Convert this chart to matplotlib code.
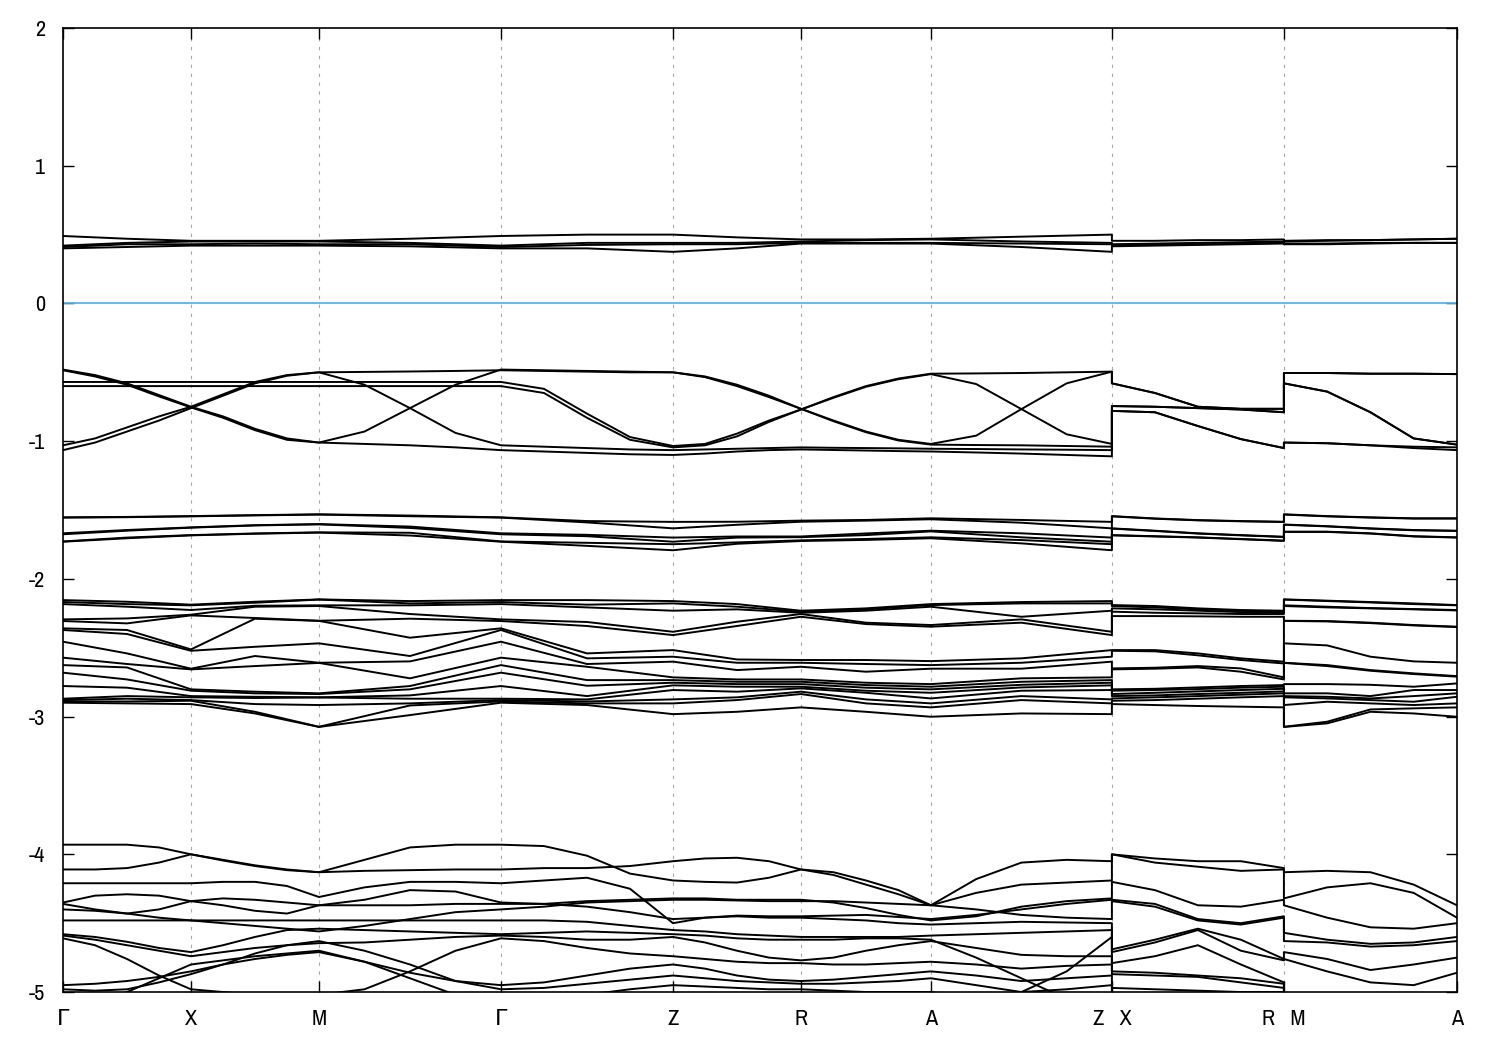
import numpy as np
import matplotlib
import matplotlib.pyplot as plt
from matplotlib import font_manager
from matplotlib.ticker import FormatStrFormatter

matplotlib.use("Agg")

# k-path: Γ X M Γ Z R A Z|X R|M A (path distance)
kpath = [0.0, 1.0, 2.0, 3.422, 4.766, 5.766, 6.781, 8.195, 9.539, 10.891]
klabels = ["Γ", "X", "M", "Γ", "Z", "R", "A", "Z   X", "R   M", "A"]

# Energies in eV.
# "_path" = Γ-X-M-Γ-Z-R-A-Z, "_xr" = X-R piece, "_ma" = M-A piece.
# Sorted tables: one row per k-point (path: nodes + midpoints, pieces: 5 points).

g1_path = [
    [0.49, 0.42, 0.41, 0.40],
    [0.47, 0.44, 0.43, 0.41],
    [0.455, 0.45, 0.43, 0.42],
    [0.455, 0.45, 0.435, 0.42],
    [0.455, 0.45, 0.43, 0.42],
    [0.47, 0.44, 0.43, 0.415],
    [0.49, 0.42, 0.41, 0.40],
    [0.50, 0.44, 0.425, 0.40],
    [0.50, 0.44, 0.43, 0.375],
    [0.48, 0.44, 0.43, 0.40],
    [0.465, 0.45, 0.44, 0.435],
    [0.465, 0.46, 0.44, 0.435],
    [0.47, 0.465, 0.44, 0.435],
    [0.485, 0.45, 0.435, 0.41],
    [0.50, 0.44, 0.43, 0.375],
]
g1_xr = [
    [0.455, 0.43, 0.425, 0.415],
    [0.455, 0.435, 0.425, 0.42],
    [0.46, 0.44, 0.43, 0.425],
    [0.46, 0.445, 0.435, 0.43],
    [0.465, 0.45, 0.44, 0.435],
]
g1_ma = [
    [0.455, 0.45, 0.435, 0.43],
    [0.46, 0.455, 0.435, 0.43],
    [0.46, 0.46, 0.44, 0.435],
    [0.465, 0.465, 0.44, 0.44],
    [0.47, 0.47, 0.44, 0.44],
]

# group 2 is stored per band (one row = one band), quarter points on the path
g2_bands = [
    [-0.48, -0.52, -0.58, -0.665, -0.75, -0.82, -0.91, -0.98, -1.01,
     -1.02, -1.03, -1.045, -1.065, -1.075, -1.085, -1.095, -1.10,
     -1.09, -1.075, -1.065, -1.06, -1.064, -1.068, -1.072, -1.075,
     -1.082, -1.09, -1.10, -1.11],
    [-0.485, -0.53, -0.59, -0.675, -0.755, -0.83, -0.92, -0.99, -1.01,
     -0.93, -0.76, -0.59, -0.48, -0.485, -0.49, -0.495, -0.50,
     -0.53, -0.59, -0.67, -0.765, -0.85, -0.93, -0.99, -1.02,
     -0.96, -0.767, -0.58, -0.495],
    [-1.03, -0.98, -0.90, -0.82, -0.75, -0.66, -0.57, -0.52, -0.50,
     -0.497, -0.494, -0.49, -0.485, -0.49, -0.495, -0.50, -0.50,
     -0.535, -0.60, -0.68, -0.765, -0.855, -0.935, -0.995, -1.025,
     -1.028, -1.03, -1.035, -1.04],
    [-1.065, -1.01, -0.93, -0.85, -0.76, -0.67, -0.58, -0.525, -0.50,
     -0.59, -0.76, -0.94, -1.03, -1.04, -1.05, -1.06, -1.065,
     -1.06, -1.055, -1.05, -1.045, -1.048, -1.05, -1.052, -1.055,
     -1.057, -1.06, -1.062, -1.065],
    [-0.57, -0.57, -0.57, -0.57, -0.57, -0.57, -0.57, -0.57, -0.57,
     -0.57, -0.57, -0.57, -0.57, -0.62, -0.80, -0.97, -1.035,
     -1.02, -0.945, -0.85, -0.77, -0.68, -0.60, -0.545, -0.51,
     -0.508, -0.505, -0.50, -0.495],
    [-0.60, -0.60, -0.60, -0.60, -0.60, -0.60, -0.60, -0.60, -0.60,
     -0.60, -0.60, -0.60, -0.60, -0.65, -0.83, -0.99, -1.045,
     -1.03, -0.965, -0.86, -0.77, -0.685, -0.605, -0.55, -0.513,
     -0.585, -0.767, -0.95, -1.02],
]
g2_xr = [
    [-0.58, -0.58, -0.745, -0.745, -0.78, -0.78],
    [-0.65, -0.65, -0.75, -0.75, -0.79, -0.79],
    [-0.75, -0.75, -0.76, -0.76, -0.89, -0.89],
    [-0.765, -0.765, -0.77, -0.77, -0.985, -0.985],
    [-0.765, -0.765, -0.79, -0.79, -1.05, -1.05],
]
g2_ma = [
    [-0.505, -0.505, -0.58, -0.58, -1.01, -1.01],
    [-0.505, -0.505, -0.64, -0.64, -1.015, -1.015],
    [-0.51, -0.51, -0.79, -0.79, -1.03, -1.03],
    [-0.51, -0.51, -0.98, -0.98, -1.04, -1.05],
    [-0.513, -0.513, -1.025, -1.025, -1.045, -1.065],
]

g3_path = [
    [-1.553, -1.555, -1.669, -1.676, -1.728, -1.730],
    [-1.550, -1.552, -1.645, -1.650, -1.700, -1.705],
    [-1.544, -1.546, -1.626, -1.628, -1.682, -1.684],
    [-1.537, -1.539, -1.610, -1.612, -1.670, -1.672],
    [-1.531, -1.533, -1.602, -1.604, -1.662, -1.664],
    [-1.540, -1.545, -1.620, -1.630, -1.665, -1.685],
    [-1.553, -1.555, -1.669, -1.676, -1.728, -1.730],
    [-1.580, -1.590, -1.680, -1.690, -1.738, -1.760],
    [-1.586, -1.633, -1.700, -1.730, -1.748, -1.792],
    [-1.585, -1.607, -1.692, -1.700, -1.735, -1.745],
    [-1.577, -1.585, -1.692, -1.697, -1.720, -1.725],
    [-1.572, -1.577, -1.670, -1.682, -1.710, -1.717],
    [-1.560, -1.567, -1.650, -1.655, -1.698, -1.705],
    [-1.572, -1.592, -1.669, -1.698, -1.718, -1.742],
    [-1.586, -1.633, -1.700, -1.730, -1.748, -1.792],
]
g3_xr = [
    [-1.544, -1.546, -1.633, -1.635, -1.682, -1.684],
    [-1.561, -1.563, -1.650, -1.652, -1.690, -1.692],
    [-1.573, -1.575, -1.669, -1.671, -1.698, -1.700],
    [-1.580, -1.582, -1.682, -1.684, -1.710, -1.712],
    [-1.585, -1.587, -1.694, -1.696, -1.722, -1.724],
]
g3_ma = [
    [-1.531, -1.533, -1.605, -1.607, -1.657, -1.659],
    [-1.544, -1.546, -1.617, -1.619, -1.657, -1.659],
    [-1.553, -1.555, -1.633, -1.635, -1.669, -1.671],
    [-1.560, -1.562, -1.645, -1.647, -1.690, -1.692],
    [-1.560, -1.562, -1.650, -1.652, -1.698, -1.700],
]

g4_path = [
    [-2.154, -2.168, -2.183, -2.294, -2.306, -2.359, -2.371, -2.456, -2.572, -2.626, -2.681, -2.778, -2.870, -2.880, -2.890, -2.899],
    [-2.166, -2.183, -2.202, -2.287, -2.323, -2.371, -2.400, -2.541, -2.618, -2.643, -2.730, -2.790, -2.851, -2.870, -2.890, -2.904],
    [-2.187, -2.192, -2.226, -2.260, -2.265, -2.512, -2.522, -2.652, -2.657, -2.802, -2.812, -2.851, -2.860, -2.880, -2.885, -2.909],
    [-2.166, -2.173, -2.195, -2.202, -2.284, -2.289, -2.493, -2.560, -2.633, -2.819, -2.831, -2.856, -2.865, -2.909, -2.965, -2.977],
    [-2.149, -2.150, -2.192, -2.197, -2.304, -2.305, -2.468, -2.609, -2.610, -2.831, -2.836, -2.860, -2.861, -2.916, -3.074, -3.075],
    [-2.161, -2.178, -2.192, -2.255, -2.289, -2.427, -2.560, -2.599, -2.722, -2.778, -2.802, -2.846, -2.870, -2.904, -2.919, -2.989],
    [-2.154, -2.168, -2.183, -2.294, -2.306, -2.359, -2.371, -2.456, -2.572, -2.626, -2.681, -2.778, -2.870, -2.880, -2.890, -2.899],
    [-2.154, -2.187, -2.207, -2.313, -2.342, -2.541, -2.577, -2.618, -2.638, -2.735, -2.776, -2.851, -2.875, -2.890, -2.904, -2.916],
    [-2.161, -2.178, -2.231, -2.384, -2.408, -2.517, -2.565, -2.601, -2.715, -2.735, -2.754, -2.773, -2.807, -2.875, -2.904, -2.982],
    [-2.183, -2.202, -2.221, -2.311, -2.342, -2.585, -2.609, -2.662, -2.730, -2.747, -2.764, -2.783, -2.819, -2.860, -2.880, -2.965],
    [-2.231, -2.238, -2.246, -2.255, -2.275, -2.589, -2.609, -2.638, -2.730, -2.747, -2.764, -2.783, -2.795, -2.819, -2.836, -2.933],
    [-2.214, -2.221, -2.231, -2.318, -2.328, -2.589, -2.618, -2.674, -2.754, -2.771, -2.790, -2.812, -2.827, -2.875, -2.904, -2.965],
    [-2.183, -2.190, -2.202, -2.335, -2.347, -2.597, -2.626, -2.652, -2.764, -2.783, -2.802, -2.827, -2.868, -2.904, -2.933, -3.001],
    [-2.168, -2.178, -2.275, -2.294, -2.318, -2.577, -2.609, -2.652, -2.722, -2.747, -2.769, -2.788, -2.812, -2.851, -2.880, -2.977],
    [-2.161, -2.178, -2.231, -2.384, -2.408, -2.517, -2.565, -2.601, -2.715, -2.735, -2.754, -2.773, -2.807, -2.875, -2.904, -2.982],
]
g4_xr = [
    [-2.190, -2.197, -2.214, -2.238, -2.270, -2.517, -2.522, -2.650, -2.657, -2.802, -2.812, -2.836, -2.851, -2.868, -2.885, -2.909],
    [-2.197, -2.207, -2.221, -2.246, -2.270, -2.517, -2.526, -2.645, -2.652, -2.798, -2.807, -2.827, -2.846, -2.860, -2.880, -2.916],
    [-2.214, -2.221, -2.231, -2.250, -2.272, -2.541, -2.555, -2.633, -2.643, -2.788, -2.800, -2.817, -2.836, -2.851, -2.870, -2.923],
    [-2.226, -2.231, -2.241, -2.255, -2.275, -2.577, -2.589, -2.650, -2.674, -2.778, -2.790, -2.807, -2.827, -2.841, -2.860, -2.928],
    [-2.231, -2.238, -2.246, -2.255, -2.275, -2.601, -2.614, -2.715, -2.730, -2.771, -2.783, -2.798, -2.817, -2.831, -2.851, -2.933],
]
g4_ma = [
    [-2.149, -2.150, -2.192, -2.197, -2.304, -2.305, -2.468, -2.609, -2.610, -2.764, -2.831, -2.851, -2.860, -2.916, -3.074, -3.075],
    [-2.158, -2.161, -2.202, -2.207, -2.306, -2.309, -2.483, -2.626, -2.633, -2.764, -2.831, -2.856, -2.868, -2.892, -3.037, -3.049],
    [-2.168, -2.171, -2.212, -2.214, -2.318, -2.321, -2.565, -2.662, -2.667, -2.769, -2.851, -2.868, -2.880, -2.904, -2.948, -2.965],
    [-2.178, -2.183, -2.219, -2.221, -2.335, -2.338, -2.599, -2.686, -2.691, -2.783, -2.807, -2.851, -2.892, -2.916, -2.940, -2.977],
    [-2.190, -2.192, -2.226, -2.229, -2.347, -2.350, -2.609, -2.706, -2.710, -2.759, -2.807, -2.831, -2.856, -2.904, -2.933, -3.001],
]

# group 5 per band, quarter points on the path
g5_bands = [
    [-3.93, -3.93, -3.93, -3.95, -4.00, -4.04, -4.08, -4.11, -4.13,
     -4.04, -3.95, -3.93, -3.93, -3.94, -4.01, -4.14, -4.19,
     -4.20, -4.205, -4.17, -4.11, -4.13, -4.19, -4.26, -4.37,
     -4.18, -4.06, -4.04, -4.05],
    [-4.11, -4.11, -4.10, -4.06, -4.00, -4.045, -4.085, -4.115, -4.13,
     -4.12, -4.115, -4.11, -4.11, -4.10, -4.10, -4.085, -4.05,
     -4.03, -4.025, -4.05, -4.11, -4.15, -4.22, -4.29, -4.37,
     -4.28, -4.22, -4.205, -4.19],
    [-4.21, -4.21, -4.21, -4.21, -4.21, -4.20, -4.20, -4.23, -4.31,
     -4.24, -4.20, -4.20, -4.21, -4.19, -4.17, -4.25, -4.50,
     -4.46, -4.445, -4.45, -4.45, -4.445, -4.44, -4.455, -4.47,
     -4.44, -4.40, -4.36, -4.33],
    [-4.35, -4.30, -4.29, -4.30, -4.34, -4.37, -4.41, -4.43, -4.37,
     -4.33, -4.26, -4.27, -4.35, -4.36, -4.34, -4.33, -4.32,
     -4.32, -4.33, -4.33, -4.33, -4.35, -4.39, -4.44, -4.48,
     -4.45, -4.38, -4.34, -4.32],
    [-4.36, -4.40, -4.43, -4.40, -4.34, -4.32, -4.33, -4.35, -4.37,
     -4.37, -4.37, -4.36, -4.36, -4.36, -4.38, -4.42, -4.47,
     -4.46, -4.45, -4.46, -4.46, -4.47, -4.48, -4.50, -4.51,
     -4.50, -4.49, -4.495, -4.50],
    [-4.40, -4.41, -4.43, -4.46, -4.48, -4.50, -4.52, -4.54, -4.56,
     -4.52, -4.47, -4.42, -4.40, -4.38, -4.35, -4.34, -4.33,
     -4.33, -4.335, -4.34, -4.34, -4.34, -4.35, -4.36, -4.37,
     -4.40, -4.44, -4.46, -4.47],
    [-4.48, -4.48, -4.48, -4.48, -4.48, -4.48, -4.48, -4.48, -4.48,
     -4.48, -4.48, -4.48, -4.48, -4.48, -4.49, -4.52, -4.55,
     -4.56, -4.58, -4.59, -4.60, -4.60, -4.60, -4.60, -4.59,
     -4.58, -4.57, -4.56, -4.55],
    [-4.58, -4.60, -4.635, -4.68, -4.71, -4.66, -4.60, -4.55, -4.54,
     -4.55, -4.56, -4.57, -4.58, -4.57, -4.56, -4.57, -4.58,
     -4.59, -4.61, -4.62, -4.62, -4.62, -4.61, -4.61, -4.62,
     -4.75, -4.90, -5.05, -5.10],
    [-4.59, -4.62, -4.66, -4.70, -4.74, -4.71, -4.68, -4.66, -4.645,
     -4.64, -4.62, -4.60, -4.59, -4.60, -4.62, -4.62, -4.60,
     -4.64, -4.70, -4.75, -4.77, -4.75, -4.70, -4.66, -4.63,
     -4.68, -4.73, -4.74, -4.74],
    [-4.61, -4.66, -4.76, -4.88, -4.98, -5.00, -5.02, -5.03, -5.02,
     -4.98, -4.85, -4.70, -4.61, -4.63, -4.68, -4.72, -4.74,
     -4.76, -4.78, -4.79, -4.79, -4.80, -4.80, -4.79, -4.78,
     -4.80, -4.83, -4.81, -4.80],
    [-4.95, -4.94, -4.92, -4.89, -4.85, -4.80, -4.76, -4.73, -4.71,
     -4.78, -4.86, -4.92, -4.95, -4.93, -4.88, -4.83, -4.80,
     -4.83, -4.88, -4.91, -4.92, -4.91, -4.89, -4.87, -4.85,
     -4.88, -4.92, -4.90, -4.88],
    [-4.98, -4.99, -4.98, -4.93, -4.87, -4.80, -4.72, -4.66, -4.63,
     -4.70, -4.80, -4.92, -4.98, -4.97, -4.94, -4.91, -4.88,
     -4.90, -4.92, -4.93, -4.94, -4.94, -4.93, -4.92, -4.90,
     -4.95, -5.00, -4.98, -4.95],
    [-5.10, -5.08, -5.00, -4.90, -4.80, -4.77, -4.74, -4.72, -4.70,
     -4.78, -4.90, -5.02, -5.10, -5.07, -5.02, -4.98, -4.95,
     -4.96, -4.97, -4.98, -4.98, -4.99, -5.00, -5.00, -5.00,
     -5.05, -5.00, -4.85, -4.60],
]
g5_xr = [
    [-4.00, -4.00, -4.20, -4.33, -4.34, -4.69, -4.71, -4.79, -4.85, -4.87, -4.97, -5.05, -5.10],
    [-4.03, -4.06, -4.26, -4.36, -4.38, -4.62, -4.64, -4.74, -4.86, -4.88, -4.98, -5.05, -5.10],
    [-4.05, -4.09, -4.37, -4.47, -4.48, -4.54, -4.55, -4.66, -4.88, -4.89, -4.99, -5.05, -5.10],
    [-4.05, -4.12, -4.38, -4.50, -4.51, -4.62, -4.70, -4.80, -4.90, -4.93, -5.00, -5.05, -5.10],
    [-4.10, -4.11, -4.33, -4.45, -4.46, -4.76, -4.77, -4.93, -4.94, -4.97, -5.00, -5.05, -5.10],
]
g5_ma = [
    [-4.13, -4.32, -4.37, -4.57, -4.63, -4.71, -4.76, -5.02, -5.10, -5.15, -5.20, -5.25, -5.30],
    [-4.12, -4.24, -4.46, -4.62, -4.64, -4.76, -4.85, -5.02, -5.10, -5.15, -5.20, -5.25, -5.30],
    [-4.13, -4.21, -4.53, -4.65, -4.67, -4.84, -4.93, -5.02, -5.10, -5.15, -5.20, -5.25, -5.30],
    [-4.22, -4.28, -4.54, -4.64, -4.66, -4.80, -4.95, -5.02, -5.10, -5.15, -5.20, -5.25, -5.30],
    [-4.37, -4.46, -4.50, -4.60, -4.63, -4.75, -4.86, -5.02, -5.10, -5.15, -5.20, -5.25, -5.30],
]

# font: a narrow sans like gnuplot's if one is installed
names = sorted({f.name for f in font_manager.fontManager.ttflist})
narrow = [n for n in names if "Narrow" in n or "Condensed" in n]
if narrow:
    plt.rcParams["font.family"] = [narrow[0], "DejaVu Sans"]
else:
    plt.rcParams["font.family"] = ["DejaVu Sans"]
plt.rcParams["axes.unicode_minus"] = False

# sample positions along the path
nodes = np.array(kpath[:8])
k_mid = np.empty(15)
k_mid[0::2] = nodes
k_mid[1::2] = (nodes[:-1] + nodes[1:]) / 2
k_quarter = np.concatenate(
    [np.linspace(nodes[i], nodes[i + 1], 5)[(0 if i == 0 else 1):] for i in range(7)]
)
k_xr = np.linspace(kpath[7], kpath[8], 5)
k_ma = np.linspace(kpath[8], kpath[9], 5)

# (k along path, band rows on path, X-R table, M-A table)
groups = [
    (k_mid, np.array(g1_path).T, g1_xr, g1_ma),
    (k_quarter, np.array(g2_bands), g2_xr, g2_ma),
    (k_mid, np.array(g3_path).T, g3_xr, g3_ma),
    (k_mid, np.array(g4_path).T, g4_xr, g4_ma),
    (k_quarter, np.array(g5_bands), g5_xr, g5_ma),
]

fig = plt.figure(figsize=(15, 10.5), dpi=100)
ax = fig.add_axes([0.042, 0.0552, 0.9293, 0.9181])

for kp, bands, xr, ma in groups:
    xr = np.array(xr).T
    ma = np.array(ma).T
    # pair path bands with the piece bands by their energy at the end Z point
    order = np.argsort(-bands[:, -1])
    k_all = np.concatenate([kp, k_xr, k_ma])
    for j, b in enumerate(order):
        e = np.concatenate([bands[b], xr[j], ma[j]])
        ax.plot(k_all, e, color="black", linewidth=1.4, solid_joinstyle="round")

# fermi level
ax.axhline(0, color="#5ab4e4", linewidth=1.3)

# high-symmetry lines
for k in kpath[1:-1]:
    ax.axvline(k, color="#a8a8a8", linewidth=0.8, linestyle=(0, (3, 5)), zorder=0)

ax.set_xlim(kpath[0], kpath[-1])
ax.set_ylim(-5, 2)
ax.set_xticks(kpath)
ax.set_xticklabels(klabels)
ax.set_yticks(np.arange(-5, 3, 1))
ax.yaxis.set_major_formatter(FormatStrFormatter("%d"))
ax.tick_params(axis="both", direction="in", length=8, width=1, top=True, right=True,
               labelsize=16, pad=13)
ax.tick_params(axis="x", pad=12)
for s in ax.spines.values():
    s.set_linewidth(1.2)

fig.savefig("out.png", dpi=100)
plt.close(fig)
